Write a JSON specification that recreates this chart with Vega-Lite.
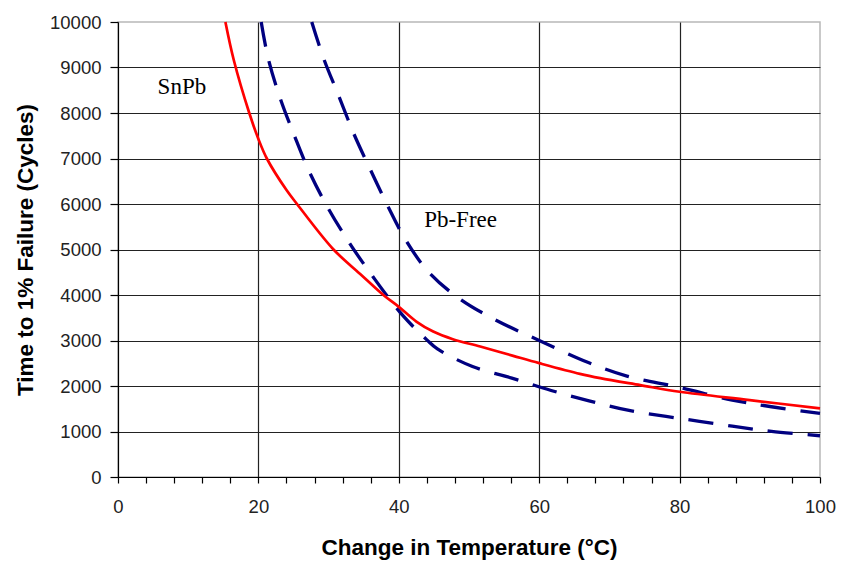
{
  "$schema": "https://vega.github.io/schema/vega-lite/v6.json",
  "width": 702,
  "height": 455,
  "autosize": {"type": "none"},
  "padding": {"left": 118, "top": 22, "right": 21, "bottom": 84},
  "background": "white",
  "config": {
    "view": {"stroke": "#b8b8b8", "strokeWidth": 1.5},
    "axis": {
      "labelFont": "Liberation Sans",
      "labelFontSize": 18.5,
      "labelColor": "#222",
      "labelFlush": false,
      "titleFont": "Liberation Sans",
      "titleFontSize": 22.5,
      "titleFontWeight": "bold",
      "titleColor": "#000",
      "domainColor": "#000",
      "domainWidth": 1.2,
      "tickColor": "#000",
      "tickWidth": 1.2,
      "gridColor": "#222",
      "gridWidth": 1.2
    }
  },
  "datasets": {
    "curves": [
      {"series": "SnPb", "t": 15.3, "v": 10000},
      {"series": "SnPb", "t": 16.5, "v": 9159},
      {"series": "SnPb", "t": 18.7, "v": 8000},
      {"series": "SnPb", "t": 20, "v": 7430},
      {"series": "SnPb", "t": 21.2, "v": 7000},
      {"series": "SnPb", "t": 24.0, "v": 6306},
      {"series": "SnPb", "t": 25.5, "v": 6000},
      {"series": "SnPb", "t": 30.7, "v": 5000},
      {"series": "SnPb", "t": 34.5, "v": 4462},
      {"series": "SnPb", "t": 37.8, "v": 4000},
      {"series": "SnPb", "t": 40, "v": 3740},
      {"series": "SnPb", "t": 42.5, "v": 3416},
      {"series": "SnPb", "t": 44.9, "v": 3196},
      {"series": "SnPb", "t": 47.7, "v": 3029},
      {"series": "SnPb", "t": 51.6, "v": 2867},
      {"series": "SnPb", "t": 56.3, "v": 2662},
      {"series": "SnPb", "t": 60, "v": 2502},
      {"series": "SnPb", "t": 65.8, "v": 2267},
      {"series": "SnPb", "t": 68.7, "v": 2173},
      {"series": "SnPb", "t": 74.4, "v": 2020},
      {"series": "SnPb", "t": 80, "v": 1873},
      {"series": "SnPb", "t": 90, "v": 1690},
      {"series": "SnPb", "t": 100, "v": 1507},
      {"series": "PbFreeLow", "t": 20.4, "v": 10000},
      {"series": "PbFreeLow", "t": 21.4, "v": 9196},
      {"series": "PbFreeLow", "t": 23.1, "v": 8325},
      {"series": "PbFreeLow", "t": 25.1, "v": 7513},
      {"series": "PbFreeLow", "t": 27.3, "v": 6694},
      {"series": "PbFreeLow", "t": 30.0, "v": 5889},
      {"series": "PbFreeLow", "t": 33.0, "v": 5136},
      {"series": "PbFreeLow", "t": 36.3, "v": 4405},
      {"series": "PbFreeLow", "t": 40.5, "v": 3562},
      {"series": "PbFreeLow", "t": 44.0, "v": 3013},
      {"series": "PbFreeLow", "t": 45.5, "v": 2815},
      {"series": "PbFreeLow", "t": 50.5, "v": 2428},
      {"series": "PbFreeLow", "t": 56.1, "v": 2173},
      {"series": "PbFreeLow", "t": 61.7, "v": 1902},
      {"series": "PbFreeLow", "t": 67.1, "v": 1675},
      {"series": "PbFreeLow", "t": 72.8, "v": 1463},
      {"series": "PbFreeLow", "t": 80, "v": 1288},
      {"series": "PbFreeLow", "t": 87.5, "v": 1119},
      {"series": "PbFreeLow", "t": 93.1, "v": 1002},
      {"series": "PbFreeLow", "t": 100, "v": 907},
      {"series": "PbFreeHigh", "t": 27.6, "v": 10000},
      {"series": "PbFreeHigh", "t": 29.3, "v": 9196},
      {"series": "PbFreeHigh", "t": 31.5, "v": 8355},
      {"series": "PbFreeHigh", "t": 33.6, "v": 7542},
      {"series": "PbFreeHigh", "t": 36.0, "v": 6738},
      {"series": "PbFreeHigh", "t": 38.5, "v": 5933},
      {"series": "PbFreeHigh", "t": 40.9, "v": 5230},
      {"series": "PbFreeHigh", "t": 44.2, "v": 4513},
      {"series": "PbFreeHigh", "t": 48.5, "v": 3935},
      {"series": "PbFreeHigh", "t": 53.5, "v": 3475},
      {"series": "PbFreeHigh", "t": 60, "v": 3000},
      {"series": "PbFreeHigh", "t": 67, "v": 2516},
      {"series": "PbFreeHigh", "t": 72.5, "v": 2217},
      {"series": "PbFreeHigh", "t": 80, "v": 1969},
      {"series": "PbFreeHigh", "t": 87.5, "v": 1690},
      {"series": "PbFreeHigh", "t": 93.1, "v": 1544},
      {"series": "PbFreeHigh", "t": 100, "v": 1398}
    ],
    "labels": [
      {"label": "SnPb", "t": 9.1, "v": 8578},
      {"label": "Pb-Free", "t": 48.8, "v": 5648}
    ]
  },
  "layer": [
    {
      "data": {"name": "curves"},
      "transform": [{"filter": "datum.series !== 'SnPb'"}],
      "mark": {"type": "line", "interpolate": "catmull-rom", "strokeWidth": 3.3, "color": "#000080", "strokeDash": [25, 15]},
      "encoding": {
        "x": {
          "field": "t", "type": "quantitative",
          "scale": {"domain": [0, 100], "nice": false},
          "axis": {
            "title": "Change in Temperature (°C)",
            "values": [0, 4, 8, 12, 16, 20, 24, 28, 32, 36, 40, 44, 48, 52, 56, 60, 64, 68, 72, 76, 80, 84, 88, 92, 96, 100],
            "tickCount": 40,
            "labelExpr": "datum.value % 20 === 0 ? datum.label : ''",
            "labelOverlap": false,
            "labelPadding": 14,
            "tickSize": 6,
            "titlePadding": 21,
            "grid": true,
            "gridOpacity": {"condition": {"test": "datum.value % 20 === 0 && datum.value > 0 && datum.value < 100", "value": 1}, "value": 0}
          }
        },
        "y": {
          "field": "v", "type": "quantitative",
          "scale": {"domain": [0, 10000], "nice": false},
          "axis": {
            "title": "Time to 1% Failure (Cycles)",
            "values": [0, 1000, 2000, 3000, 4000, 5000, 6000, 7000, 8000, 9000, 10000],
            "tickCount": 20,
            "format": "d",
            "tickSize": 8,
            "labelPadding": 9,
            "titlePadding": 12,
            "grid": true,
            "gridOpacity": {"condition": {"test": "datum.value > 0 && datum.value < 10000", "value": 1}, "value": 0}
          }
        },
        "detail": {"field": "series"}
      }
    },
    {
      "data": {"name": "curves"},
      "transform": [{"filter": "datum.series === 'SnPb'"}],
      "mark": {"type": "line", "interpolate": "catmull-rom", "strokeWidth": 2.7, "color": "#ff0000"},
      "encoding": {
        "x": {"field": "t", "type": "quantitative"},
        "y": {"field": "v", "type": "quantitative"}
      }
    },
    {
      "data": {"name": "labels"},
      "mark": {"type": "text", "font": "Liberation Serif", "fontSize": 23, "color": "#000", "align": "center", "baseline": "middle"},
      "encoding": {
        "x": {"field": "t", "type": "quantitative"},
        "y": {"field": "v", "type": "quantitative"},
        "text": {"field": "label"}
      }
    }
  ]
}
